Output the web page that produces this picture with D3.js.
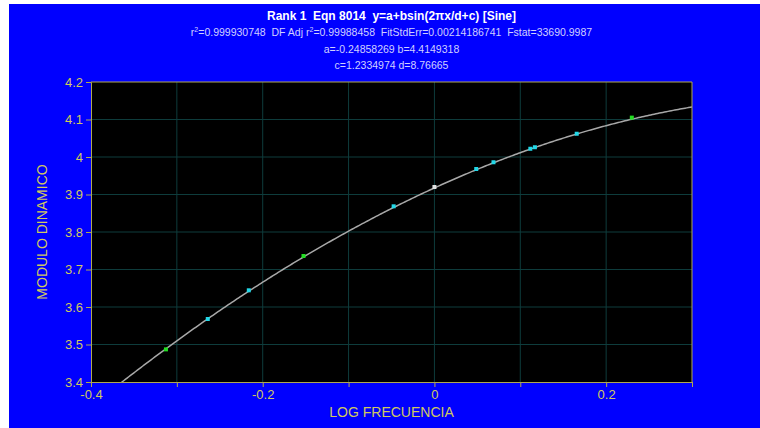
<!DOCTYPE html>
<html>
<head>
<meta charset="utf-8">
<script src="https://cdn.jsdelivr.net/npm/d3@7"></script>
<style>
  body { margin: 0; background: #fff; }
  svg { display: block; font-family: "Liberation Sans", Arial, sans-serif; }
  text { white-space: pre; }
</style>
</head>
<body>
<svg id="chart" width="760" height="428"></svg>
<script>
// observed points (log frequency, modulo dinamico)
const xValues = [-0.3127, -0.264, -0.2162, -0.1525, -0.0475, 0.0, 0.0487, 0.0688, 0.1117, 0.117, 0.1657, 0.2299];
const yValues = [3.487, 3.568, 3.6445, 3.736, 3.8685, 3.92, 3.968, 3.986, 4.022, 4.026, 4.062, 4.105];
const pointKind = ["g", "c", "c", "g", "c", "w", "c", "c", "c", "c", "c", "g"];

// fitted parameters shown in the header
const fitA = -0.24858269, fitB = 4.4149318, fitC = 1.2334974, fitD = 8.76665;

const xTicks = [-0.4, -0.3, -0.2, -0.1, 0, 0.1, 0.2, 0.3];
const xTickLabels = ["-0.4", "", "-0.2", "", "0", "", "0.2", ""];
const yTicks = [3.4, 3.5, 3.6, 3.7, 3.8, 3.9, 4.0, 4.1, 4.2];
const yTickLabels = ["3.4", "3.5", "3.6", "3.7", "3.8", "3.9", "4", "4.1", "4.2"];

// header lines, "^2" marks a superscript
const titleLines = [
  ["Rank 1  Eqn 8014  y=a+bsin(2\u03c0x/d+c) [Sine]"],
  ["r", "^2", "=0.999930748  DF Adj r", "^2", "=0.99988458  FitStdErr=0.00214186741  Fstat=33690.9987"],
  ["a=-0.24858269 b=4.4149318"],
  ["c=1.2334974 d=8.76665"]
];

const svg = d3.select("#chart");
const margin = { left: 91, right: 68, top: 82, bottom: 46 };
const W = 760, H = 428;

// blue panel
svg.append("rect").attr("x", 9).attr("y", 4).attr("width", W - 9).attr("height", H - 4).attr("fill", "#0000ff");

const x = d3.scaleLinear().domain([-0.4, 0.3]).range([margin.left, W - margin.right]);
const y = d3.scaleLinear().domain([3.4, 4.2]).range([H - margin.bottom, margin.top]);

// plot background
svg.append("rect")
  .attr("x", x(-0.4)).attr("y", y(4.2))
  .attr("width", x(0.3) - x(-0.4)).attr("height", y(3.4) - y(4.2))
  .attr("fill", "#000");

// grid
svg.append("g").selectAll("line").data(xTicks.slice(1, -1)).join("line")
  .attr("x1", d => x(d)).attr("x2", d => x(d))
  .attr("y1", y(4.2)).attr("y2", y(3.4))
  .attr("stroke", "#0e3c3c").attr("stroke-width", 1);
svg.append("g").selectAll("line").data(yTicks.slice(1, -1)).join("line")
  .attr("x1", x(-0.4)).attr("x2", x(0.3))
  .attr("y1", d => y(d)).attr("y2", d => y(d))
  .attr("stroke", "#0e3c3c").attr("stroke-width", 1);

// fitted curve
const fit = v => fitA + fitB * Math.sin(2 * Math.PI * v / fitD + fitC);
const curveX = d3.range(-0.4, 0.3001, 0.002);
svg.append("defs").append("clipPath").attr("id", "clip")
  .append("rect").attr("x", x(-0.4)).attr("y", y(4.2))
  .attr("width", x(0.3) - x(-0.4)).attr("height", y(3.4) - y(4.2));
svg.append("path")
  .datum(curveX)
  .attr("clip-path", "url(#clip)")
  .attr("fill", "none")
  .attr("stroke", "#a8a8a8")
  .attr("stroke-width", 1.5)
  .attr("d", d3.line().x(d => x(d)).y(d => y(fit(d))));

// points
const kindColor = { g: "#22dd22", c: "#22d8e8", w: "#e0e0e0" };
svg.append("g").selectAll("rect").data(xValues).join("rect")
  .attr("x", d => x(d) - 2).attr("y", (d, i) => y(yValues[i]) - 2)
  .attr("width", 4).attr("height", 4)
  .attr("fill", (d, i) => kindColor[pointKind[i]]);

// axes
const axisColor = "#b0a850", labelColor = "#d0c860";
const xAxis = svg.append("g")
  .attr("transform", `translate(0,${y(3.4)})`)
  .call(d3.axisBottom(x).tickValues(xTicks).tickFormat((d, i) => xTickLabels[i]).tickSize(5).tickPadding(3));
const yAxis = svg.append("g")
  .attr("transform", `translate(${x(-0.4)},0)`)
  .call(d3.axisLeft(y).tickValues(yTicks).tickFormat((d, i) => yTickLabels[i]).tickSize(5).tickPadding(3));
[xAxis, yAxis].forEach(g => {
  g.select(".domain").attr("stroke", axisColor);
  g.selectAll(".tick line").attr("stroke", axisColor);
  g.selectAll(".tick text").attr("fill", labelColor).attr("font-size", 13).attr("font-family", "Liberation Sans, Arial, sans-serif");
});
// right and top frame
svg.append("line").attr("x1", x(0.3)).attr("x2", x(0.3)).attr("y1", y(4.2)).attr("y2", y(3.4)).attr("stroke", axisColor);
svg.append("line").attr("x1", x(-0.4)).attr("x2", x(0.3)).attr("y1", y(4.2)).attr("y2", y(4.2)).attr("stroke", axisColor);

// axis titles
svg.append("text")
  .attr("x", (x(-0.4) + x(0.3)) / 2).attr("y", 417)
  .attr("text-anchor", "middle").attr("fill", labelColor).attr("font-size", 14)
  .text("LOG FRECUENCIA");
svg.append("text")
  .attr("transform", `translate(47,${(y(3.4) + y(4.2)) / 2}) rotate(-90)`)
  .attr("text-anchor", "middle").attr("fill", labelColor).attr("font-size", 14)
  .text("MODULO DINAMICO");

// header
const titleY = [20, 36, 53, 69];
const header = svg.append("g").selectAll("text").data(titleLines).join("text")
  .attr("x", (x(-0.4) + x(0.3)) / 2)
  .attr("y", (d, i) => titleY[i])
  .attr("text-anchor", "middle")
  .attr("fill", (d, i) => i === 0 ? "#ffffff" : "#d0d0ff")
  .attr("font-size", (d, i) => i === 0 ? 12 : 10.5)
  .attr("font-weight", (d, i) => i === 0 ? "bold" : "normal");
header.selectAll("tspan").data(d => d).join("tspan")
  .attr("dy", (d, i, n) => {
    const isSup = d === "^2";
    const prevSup = i > 0 && n[i - 1].__data__ === "^2";
    return isSup ? -4 : (prevSup ? 4 : 0);
  })
  .attr("font-size", d => d === "^2" ? 7 : null)
  .text(d => d === "^2" ? "2" : d);
</script>
</body>
</html>
